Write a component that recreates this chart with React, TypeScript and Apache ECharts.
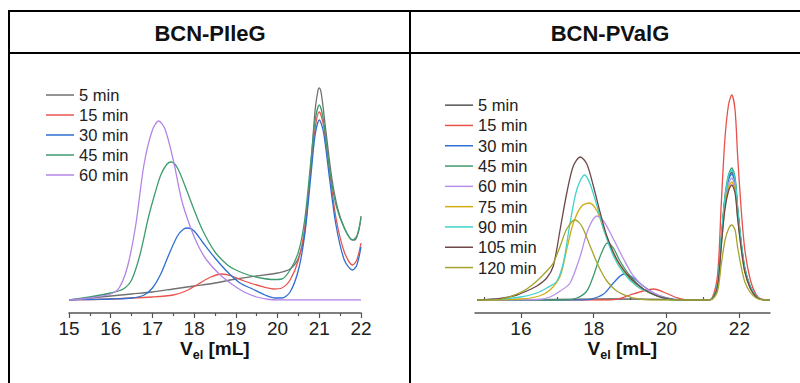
import React, { useEffect, useRef } from "react";
import * as echarts from "echarts";

const FONT = "'Liberation Sans', Arial, sans-serif";

// ---------- Left panel: BCN-PIleG ----------
const leftTitle = "BCN-PIleG";
const leftNames = ["5 min", "15 min", "30 min", "45 min", "60 min"];
const leftColors = ["#707070", "#e8554e", "#2f6fd1", "#3d9d6e", "#b485e6"];

const left5 = [[15, 0], [15.5, 2], [16, 4], [16.5, 6], [17, 8], [17.5, 11], [18, 14], [18.5, 17], [19, 21], [19.5, 24], [20, 27], [20.3, 31], [20.5, 42], [20.65, 68], [20.8, 135], [20.9, 190], [20.97, 210], [21.0, 212], [21.05, 206], [21.15, 172], [21.3, 122], [21.45, 90], [21.6, 72], [21.75, 61], [21.85, 60], [21.95, 70], [22, 84]];
const left15 = [[15, 0], [16, 1], [17, 3], [17.5, 5], [17.8, 9], [18.1, 16], [18.4, 23], [18.66, 26], [18.9, 24], [19.2, 19], [19.5, 15], [19.9, 11], [20.1, 12], [20.3, 20], [20.5, 40], [20.65, 72], [20.8, 132], [20.9, 172], [21.0, 188], [21.1, 175], [21.25, 128], [21.4, 82], [21.6, 48], [21.8, 35], [21.9, 40], [22, 57]];
const left30 = [[15, 0], [15.5, 0.5], [16, 1], [16.5, 2], [16.8, 5], [17.0, 12], [17.2, 26], [17.4, 46], [17.6, 64], [17.75, 71], [17.86, 72], [18.0, 69], [18.2, 58], [18.5, 42], [18.8, 28], [19.1, 17], [19.4, 11], [19.7, 5], [19.95, 2], [20.1, 2], [20.3, 8], [20.5, 30], [20.65, 65], [20.8, 125], [20.9, 165], [21.0, 180], [21.1, 168], [21.25, 120], [21.4, 75], [21.6, 40], [21.8, 30], [21.9, 35], [22, 53]];
const left45 = [[15, 0], [15.5, 3], [16, 7], [16.3, 11], [16.5, 20], [16.7, 45], [16.9, 82], [17.05, 105], [17.2, 125], [17.35, 136], [17.45, 138], [17.6, 132], [17.8, 112], [18.0, 90], [18.2, 70], [18.5, 48], [18.8, 35], [19.0, 30], [19.3, 25], [19.6, 22], [19.9, 20.5], [20.1, 21], [20.3, 30], [20.5, 48], [20.65, 80], [20.8, 140], [20.9, 180], [21.0, 195], [21.1, 180], [21.25, 130], [21.4, 95], [21.6, 72], [21.8, 60], [21.9, 64], [22, 82]];
const left60 = [[15, 0], [15.5, 2], [16, 6], [16.2, 12], [16.4, 33], [16.6, 75], [16.8, 136], [17.0, 170], [17.15, 179], [17.3, 171], [17.5, 140], [17.7, 100], [17.9, 74], [18.1, 54], [18.3, 40], [18.6, 26], [18.9, 16], [19.2, 8], [19.5, 3], [19.8, 0.5], [20, 0], [21, 0], [22, 0]];
const leftData = [left5, left15, left30, left45, left60];

// ---------- Right panel: BCN-PValG ----------
const rightTitle = "BCN-PValG";
const rightNames = ["5 min", "15 min", "30 min", "45 min", "60 min", "75 min", "90 min", "105 min", "120 min"];
const rightColors = ["#555555", "#e8504a", "#3070d4", "#3d9a6a", "#b892ea", "#d4ac14", "#3fd3cc", "#6e4848", "#a4a42c"];
const rightLabels = [16, 18, 20, 22];
const rightMinor = [15, 17, 19, 21];

const right5 = [[14.8, 0], [17, 0.5], [18.5, 1], [20, 0.5], [21.1, 0], [21.25, 1.3], [21.4, 15], [21.5, 59], [21.6, 100], [21.7, 122], [21.79, 128], [21.88, 119], [21.95, 91], [22.05, 56], [22.15, 31], [22.3, 13], [22.45, 4], [22.6, 0.6], [22.84, 0]];
const right15 = [[14.8, 0], [18.3, 0], [18.63, 0.7], [19.0, 5], [19.36, 9], [19.64, 11], [19.91, 8], [20.28, 2.3], [20.6, 0], [21.1, 0], [21.25, 2], [21.4, 25], [21.5, 95], [21.6, 160], [21.7, 195], [21.79, 205], [21.88, 190], [21.95, 145], [22.05, 90], [22.15, 50], [22.3, 20], [22.45, 6], [22.6, 1], [22.84, 0]];
const right30 = [[14.8, 0], [17.6, 0], [17.9, 0.7], [18.27, 6], [18.54, 17], [18.83, 26], [19.09, 22], [19.36, 14], [19.64, 7], [20.0, 2], [20.46, 0], [21.1, 0], [21.25, 1.3], [21.4, 15], [21.5, 58], [21.6, 98], [21.7, 120], [21.79, 126], [21.88, 117], [21.95, 89], [22.05, 55], [22.15, 30], [22.3, 13], [22.45, 4], [22.6, 0.6], [22.84, 0]];
const right45 = [[14.8, 0], [17.2, 0], [17.54, 2], [17.81, 9], [17.99, 24], [18.18, 44], [18.38, 57], [18.54, 52], [18.72, 39], [19.0, 24], [19.36, 11], [19.73, 4], [20.1, 0.5], [20.4, 0], [21.1, 0], [21.25, 1.3], [21.4, 16], [21.5, 61], [21.6, 103], [21.7, 125], [21.79, 132], [21.88, 123], [21.95, 94], [22.05, 58], [22.15, 32], [22.3, 13], [22.45, 4], [22.6, 0.7], [22.84, 0]];
const right60 = [[14.8, 0], [16.5, 0.5], [16.8, 3], [17.08, 9], [17.35, 17], [17.63, 44], [17.85, 71], [18.09, 84], [18.27, 79], [18.54, 61], [18.82, 41], [19.09, 24], [19.46, 11], [19.91, 3], [20.28, 0], [21.1, 0], [21.25, 1.2], [21.4, 15], [21.5, 56], [21.6, 95], [21.7, 116], [21.79, 122], [21.88, 113], [21.95, 87], [22.05, 54], [22.15, 29], [22.3, 12], [22.45, 4], [22.6, 0.6], [22.84, 0]];
const right75 = [[14.8, 0], [16.0, 1], [16.5, 4], [16.8, 10], [17.08, 24], [17.26, 51], [17.44, 77], [17.67, 94], [17.88, 97], [18.09, 89], [18.27, 71], [18.54, 46], [18.82, 29], [19.18, 14], [19.55, 7], [20.0, 1], [20.3, 0], [21.1, 0], [21.25, 1.2], [21.4, 14], [21.5, 54], [21.6, 92], [21.7, 112], [21.79, 118], [21.88, 110], [21.95, 84], [22.05, 52], [22.15, 28], [22.3, 12], [22.45, 3.5], [22.6, 0.6], [22.84, 0]];
const right90 = [[14.8, 0], [15.5, 1], [16.0, 3], [16.44, 7], [16.71, 12], [16.99, 19], [17.17, 38], [17.35, 77], [17.54, 111], [17.75, 125], [17.9, 116], [18.09, 94], [18.27, 71], [18.54, 44], [18.82, 27], [19.18, 14], [19.55, 7], [20.0, 1], [20.3, 0], [21.1, 0], [21.25, 1.3], [21.4, 16], [21.5, 60], [21.6, 101], [21.7, 124], [21.79, 130], [21.88, 121], [21.95, 92], [22.05, 57], [22.15, 31], [22.3, 13], [22.45, 4], [22.6, 0.6], [22.84, 0]];
const right105 = [[14.8, 0], [15.43, 1.5], [15.89, 5], [16.16, 9], [16.44, 14], [16.71, 22], [16.89, 34], [17.08, 71], [17.26, 107], [17.44, 134], [17.63, 143], [17.81, 136], [17.99, 114], [18.18, 87], [18.36, 64], [18.63, 41], [18.91, 26], [19.18, 16], [19.55, 7], [20.0, 1.3], [20.4, 0], [21.1, 0], [21.25, 1.2], [21.4, 14], [21.5, 53], [21.6, 90], [21.7, 109], [21.79, 115], [21.88, 107], [21.95, 82], [22.05, 51], [22.15, 28], [22.3, 11.5], [22.45, 3.5], [22.6, 0.6], [22.84, 0]];
const right120 = [[14.8, 0], [15.43, 0.7], [15.89, 6], [16.16, 11], [16.44, 19], [16.71, 29], [16.89, 37], [17.08, 54], [17.26, 71], [17.49, 80], [17.67, 74], [17.9, 54], [18.13, 34], [18.36, 19], [18.63, 9], [19.0, 3], [19.36, 0.5], [19.7, 0], [21.1, 0], [21.25, 0.8], [21.4, 9], [21.5, 35], [21.6, 59], [21.7, 71], [21.79, 75], [21.88, 70], [21.95, 53], [22.05, 33], [22.15, 18], [22.3, 7.5], [22.45, 2.3], [22.6, 0.4], [22.84, 0]];
const rightData = [right5, right15, right30, right45, right60, right75, right90, right105, right120];

const axisTitle = "{v|V}{s|el}{v| [mL]}{z| }";

function buildOption() {
  const axisTextRich = {
    v: { fontSize: 19, fontWeight: "bold", fontFamily: FONT, color: "#111", lineHeight: 16, verticalAlign: "top" },
    s: { fontSize: 12.5, fontWeight: "bold", fontFamily: FONT, color: "#111", lineHeight: 10, verticalAlign: "bottom" },
    z: { fontSize: 1, lineHeight: 22, verticalAlign: "top" },
  };
  const axisCommon = {
    type: "value",
    offset: 13,
    axisLine: { show: true, onZero: false, lineStyle: { color: "#555", width: 1.5 } },
    axisTick: { show: true, length: 5, lineStyle: { color: "#555", width: 1.2 } },
    axisLabel: { color: "#222", fontSize: 19, fontFamily: FONT, margin: 7, lineHeight: 16 },
    splitLine: { show: false },
    name: axisTitle,
    nameLocation: "middle",
    nameGap: 26,
    nameMoveOverlap: false,
    nameTextStyle: { rich: axisTextRich },
  };

  const series: any[] = [];
  leftData.forEach((d, i) => {
    series.push({
      type: "line", name: leftNames[i], xAxisIndex: 0, yAxisIndex: 0, data: d,
      smooth: 0.3, symbol: "none", lineStyle: { color: leftColors[i], width: 1.3 }, itemStyle: { color: leftColors[i] },
    });
  });
  rightData.forEach((d, i) => {
    series.push({
      type: "line", name: rightNames[i], xAxisIndex: 1, yAxisIndex: 1, data: d,
      smooth: 0.3, symbol: "none", lineStyle: { color: rightColors[i], width: 1.3 }, itemStyle: { color: rightColors[i] },
    });
  });

  const legendCommon = {
    orient: "vertical",
    icon: "rect",
    itemWidth: 28,
    itemHeight: 1.5,
    itemGap: 0,
    padding: 0,
    selectedMode: false,
    textStyle: { fontSize: 16.5, fontFamily: FONT, color: "#222", lineHeight: 20 },
  };

  return {
    animation: false,
    backgroundColor: "#fff",
    grid: [
      { left: 69, top: 80, width: 292, height: 220 },
      { left: 475, top: 90, width: 295, height: 210 },
    ],
    xAxis: [
      { ...axisCommon, gridIndex: 0, min: 15, max: 22, interval: 1, minorTick: { show: true, splitNumber: 2, length: 3, lineStyle: { color: "#555", width: 1.2 } } },
      { ...axisCommon, gridIndex: 1, min: 14.74, max: 22.84,
        axisLabel: { ...axisCommon.axisLabel, customValues: rightLabels },
        axisTick: { ...axisCommon.axisTick, customValues: rightLabels } },
      { type: "value", gridIndex: 1, min: 14.74, max: 22.84, offset: 13,
        axisLine: { show: false }, axisLabel: { show: false }, splitLine: { show: false },
        axisTick: { show: true, length: 3, customValues: rightMinor, lineStyle: { color: "#555", width: 1.2 } } },
    ],
    yAxis: [
      { type: "value", gridIndex: 0, min: 0, max: 220, show: false },
      { type: "value", gridIndex: 1, min: 0, max: 210, show: false },
    ],
    legend: [
      { ...legendCommon, left: 46, top: 85, data: leftNames.map((n, i) => ({ name: n, itemStyle: { color: leftColors[i] } })) },
      { ...legendCommon, left: 445, top: 95, textStyle: { ...legendCommon.textStyle, lineHeight: 20.3 },
        data: rightNames.map((n, i) => ({ name: n, itemStyle: { color: rightColors[i] } })) },
    ],
    graphic: [
      { type: "line", shape: { x1: 8, y1: 11, x2: 800, y2: 11 }, style: { stroke: "#000", lineWidth: 2 } },
      { type: "line", shape: { x1: 8, y1: 53, x2: 800, y2: 53 }, style: { stroke: "#000", lineWidth: 2 } },
      { type: "line", shape: { x1: 9, y1: 10, x2: 9, y2: 383 }, style: { stroke: "#000", lineWidth: 2 } },
      { type: "line", shape: { x1: 410, y1: 10, x2: 410, y2: 383 }, style: { stroke: "#000", lineWidth: 2 } },
      { type: "text", x: 210, y: 33, style: { text: leftTitle, font: `bold 22px ${FONT}`, fill: "#111", textAlign: "center", textVerticalAlign: "middle" } },
      { type: "text", x: 610, y: 33, style: { text: rightTitle, font: `bold 22px ${FONT}`, fill: "#111", textAlign: "center", textVerticalAlign: "middle" } },
    ],
    series,
  };
}

export default function App() {
  const ref = useRef<HTMLDivElement | null>(null);
  useEffect(() => {
    if (!ref.current) return;
    const chart = echarts.init(ref.current, undefined, { renderer: "svg" });
    chart.setOption(buildOption() as any);
    return () => chart.dispose();
  }, []);
  return <div ref={ref} style={{ position: "fixed", left: 0, top: 0, width: 800, height: 383 }} />;
}
